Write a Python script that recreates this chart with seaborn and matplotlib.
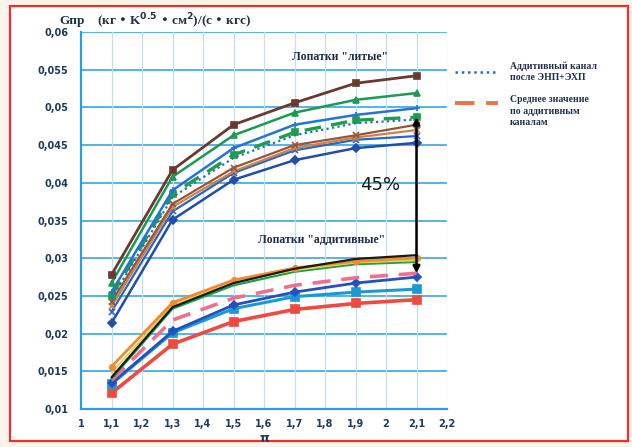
import numpy as np
import pandas as pd
import matplotlib
matplotlib.use("Agg")
import matplotlib.pyplot as plt
from matplotlib.lines import Line2D
from matplotlib.patches import Rectangle
import seaborn as sns

# pressure ratio points
pi_vals = [1.1, 1.3, 1.5, 1.7, 1.9, 2.1]

# cast blades
cast_brown = [0.0278, 0.0417, 0.0477, 0.0506, 0.0532, 0.0542]
cast_green = [0.0267, 0.0408, 0.0463, 0.0493, 0.0510, 0.0519]
cast_blue = [0.0255, 0.0390, 0.0446, 0.0477, 0.0490, 0.0499]
cast_green_dash = [0.0250, 0.0385, 0.0437, 0.0467, 0.0483, 0.0487]
channel_enp_ecp = [0.0246, 0.0381, 0.0433, 0.0463, 0.0479, 0.0484]
cast_rust = [0.0242, 0.0372, 0.0420, 0.0450, 0.0463, 0.0477]
cast_tan = [0.0236, 0.0368, 0.0415, 0.0446, 0.0460, 0.0470]
cast_mid_blue = [0.0229, 0.0362, 0.0413, 0.0443, 0.0457, 0.0462]
cast_navy = [0.0214, 0.0351, 0.0404, 0.0430, 0.0446, 0.0453]

# additive blades
add_orange = [0.0156, 0.0241, 0.0271, 0.0287, 0.0296, 0.0300]
add_yellow = [0.0148, 0.0238, 0.0268, 0.0284, 0.0294, 0.0297]
add_black = [0.0142, 0.0235, 0.0267, 0.0286, 0.0299, 0.0304]
add_green = [0.0140, 0.0233, 0.0264, 0.0282, 0.0292, 0.0295]
add_mean = [0.0138, 0.0218, 0.0247, 0.0264, 0.0274, 0.0280]
add_blue = [0.0134, 0.0203, 0.0238, 0.0255, 0.0267, 0.0275]
add_cyan = [0.0133, 0.0201, 0.0233, 0.0249, 0.0255, 0.0259]
add_red = [0.0121, 0.0186, 0.0216, 0.0232, 0.0240, 0.0245]

x_ticks = [1.0, 1.1, 1.2, 1.3, 1.4, 1.5, 1.6, 1.7, 1.8, 1.9, 2.0, 2.1, 2.2]
x_tick_labels = ["1", "1,1", "1,2", "1,3", "1,4", "1,5", "1,6", "1,7", "1,8", "1,9", "2", "2,1", "2,2"]
y_ticks = [0.01, 0.015, 0.02, 0.025, 0.03, 0.035, 0.04, 0.045, 0.05, 0.055, 0.06]
y_tick_labels = ["0,01", "0,015", "0,02", "0,025", "0,03", "0,035", "0,04", "0,045", "0,05", "0,055", "0,06"]

legend_channel = "Аддитивный канал\nпосле ЭНП+ЭХП"
legend_mean = "Среднее значение\nпо аддитивным\nканалам"
label_cast = "Лопатки \"литые\""
label_add = "Лопатки \"аддитивные\""

sns.set_theme(style="white")
plt.rcParams["font.family"] = ["DejaVu Sans"]

fig = plt.figure(figsize=(6.32, 4.47), dpi=100)
fig.patch.set_facecolor("#fbf4ec")
# white sheet with red frame
fig.add_artist(Rectangle((10 / 632, 6 / 447), 618 / 632, 435 / 447, transform=fig.transFigure,
                         facecolor="white", edgecolor="#f03030", linewidth=1.6, zorder=0))

ax = fig.add_axes([81 / 632, 1 - 409 / 447, 366 / 632, 377 / 447])
ax.set_facecolor("none")

series = [
    # values, color, linestyle, marker, width, markersize
    (cast_navy, "#1f4fa8", "-", "D", 1.8, 4),
    (cast_mid_blue, "#2f62c4", "-", "x", 1.6, 4),
    (cast_tan, "#c8844c", "-", "x", 1.6, 4),
    (cast_rust, "#9a5538", "-", "x", 1.6, 4),
    (cast_green_dash, "#1f9e4a", (0, (5, 3)), "s", 2.4, 4),
    (channel_enp_ecp, "#2d6fb4", (0, (1, 1.5)), None, 1.6, 0),
    (cast_blue, "#2474d6", "-", "+", 1.8, 5),
    (cast_green, "#1b9a55", "-", "^", 1.8, 5),
    (cast_brown, "#6a3a30", "-", "s", 2.0, 5),
    (add_red, "#f04a40", "-", "s", 2.6, 6),
    (add_cyan, "#1a9ad4", "-", "s", 2.2, 6),
    (add_blue, "#2450c0", "-", "D", 2.0, 4),
    (add_mean, "#f0708c", (0, (5, 3)), None, 2.6, 0),
    (add_green, "#1f9e50", "-", None, 1.6, 0),
    (add_yellow, "#e8d040", "-", None, 1.2, 0),
    (add_orange, "#f08c30", "-", "o", 2.0, 4),
    (add_black, "#1a1a1a", "-", None, 1.6, 0),
]

for vals, color, ls, mk, lw, ms in series:
    df = pd.DataFrame({"pi": pi_vals, "g": vals})
    sns.lineplot(data=df, x="pi", y="g", ax=ax, color=color, linestyle=ls, linewidth=lw,
                 marker=mk, markersize=ms, markeredgecolor=color, markeredgewidth=1.2,
                 legend=False, zorder=3)

ax.set_xlim(1.0, 2.2)
ax.set_ylim(0.01, 0.06)
ax.set_xticks(x_ticks)
ax.set_xticklabels(x_tick_labels)
ax.set_yticks(y_ticks)
ax.set_yticklabels(y_tick_labels)
tick_color = "#1d3b5c"
ax.tick_params(axis="x", length=0, labelsize=7, labelcolor=tick_color, pad=7)
ax.tick_params(axis="y", length=0, labelsize=7, labelcolor=tick_color, pad=9)
for lab in ax.get_xticklabels() + ax.get_yticklabels():
    lab.set_fontweight("bold")
ax.set_xlabel("π", fontsize=9, fontweight="bold", color=tick_color, labelpad=2.5)
ax.set_ylabel("")

# grid: strong horizontal, faint vertical
for y in y_ticks[1:]:
    ax.axhline(y, color="#2a9fd8", linewidth=1.1, zorder=1)
for x in x_ticks[1:]:
    ax.axvline(x, color="#bfe0f2", linewidth=0.9, zorder=1)
for side in ["top", "right"]:
    ax.spines[side].set_visible(False)
for side in ["left", "bottom"]:
    ax.spines[side].set_color("#2a9fd8")
    ax.spines[side].set_linewidth(1.6)

# gap between the groups
ax.annotate("", xy=(2.1, 0.0487), xytext=(2.1, 0.0280),
            arrowprops=dict(arrowstyle="<|-|>", color="black", lw=1.8, mutation_scale=10,
                            shrinkA=0, shrinkB=0), zorder=5)
ax.text(1.98, 0.0397, "45%", fontsize=13, color="#1a1a1a", ha="center", va="center", zorder=6)

serif_bold = dict(family=["Liberation Serif", "DejaVu Serif"], fontweight="bold", fontsize=8.5,
                  color="#1d2f48")
ax.text(1.85, 0.0567, label_cast, ha="center", va="center", **serif_bold)
ax.text(1.79, 0.0324, label_add, ha="center", va="center", **serif_bold)

# axis title
fig.text(59 / 632, 1 - 21 / 447, "Gпр", fontsize=9.5, fontweight="bold", color="#1d2f48",
         family=["Liberation Serif", "DejaVu Serif"], va="center")
fig.text(97 / 632, 1 - 21 / 447, "(кг • K$^{\\mathbf{0.5}}$ • см$^{\\mathbf{2}}$)/(с • кгс)", fontsize=9.5,
         fontweight="bold", color="#1d2f48", family=["Liberation Serif", "DejaVu Serif"], va="center")

# legend
fig.add_artist(Line2D([455 / 632, 498 / 632], [1 - 72 / 447, 1 - 72 / 447], transform=fig.transFigure,
                      color="#2d6fb4", linewidth=1.8, linestyle=(0, (1, 1.5))))
fig.add_artist(Line2D([455 / 632, 498 / 632], [1 - 103 / 447, 1 - 103 / 447], transform=fig.transFigure,
                      color="#f0704c", linewidth=2.8, linestyle=(0, (5, 3))))
legend_font = dict(family=["Liberation Serif", "DejaVu Serif"], fontweight="bold", fontsize=7,
                   color="#1d2f48", linespacing=1.3)
fig.text(510 / 632, 1 - 72 / 447, legend_channel, va="center", ha="left", **legend_font)
fig.text(510 / 632, 1 - 111 / 447, legend_mean, va="center", ha="left", **legend_font)

fig.savefig("out.png", dpi=100, facecolor=fig.get_facecolor())
